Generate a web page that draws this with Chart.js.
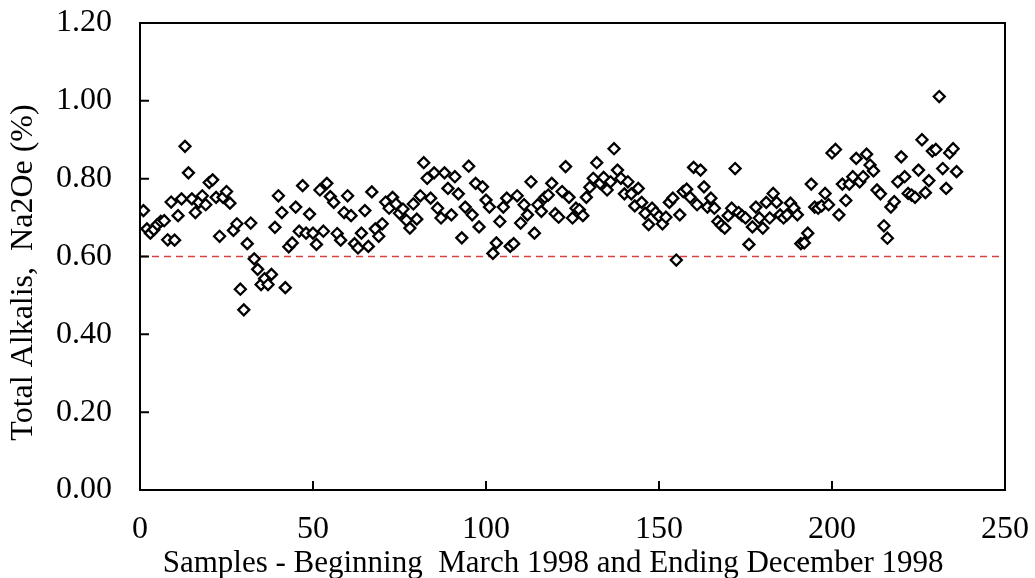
<!DOCTYPE html>
<html>
<head>
<meta charset="utf-8">
<script src="https://cdn.jsdelivr.net/npm/chart.js@4.4.0/dist/chart.umd.min.js"></script>
<style>
html, body { margin: 0; padding: 0; background: #fff; }
#wrap { width: 1035px; height: 578px; }
</style>
</head>
<body>
<div id="wrap"><canvas id="chartAlkalis"></canvas></div>
<script>
// Total alkalis (Na2Oe %) per sample, March - December 1998
const alkalis = [
    0.718, 0.671, 0.660, 0.669, 0.682, 0.690, 0.692, 0.643, 0.740, 0.642,
    0.705, 0.748, 0.883, 0.815, 0.748, 0.713, 0.739, 0.756, 0.733, 0.790,
    0.797, 0.752, 0.652, 0.752, 0.767, 0.737, 0.667, 0.684, 0.516, 0.463,
    0.633, 0.686, 0.594, 0.567, 0.528, 0.543, 0.528, 0.554, 0.675, 0.756,
    0.713, 0.520, 0.625, 0.635, 0.727, 0.665, 0.782, 0.660, 0.709, 0.660,
    0.631, 0.771, 0.665, 0.788, 0.754, 0.739, 0.659, 0.642, 0.713, 0.756,
    0.705, 0.633, 0.622, 0.660, 0.718, 0.626, 0.766, 0.671, 0.652, 0.684,
    0.740, 0.724, 0.752, 0.735, 0.711, 0.722, 0.693, 0.673, 0.735, 0.696,
    0.756, 0.841, 0.801, 0.750, 0.815, 0.724, 0.699, 0.815, 0.775, 0.707,
    0.805, 0.761, 0.648, 0.727, 0.832, 0.707, 0.788, 0.676, 0.779, 0.745,
    0.727, 0.608, 0.635, 0.690, 0.727, 0.750, 0.626, 0.633, 0.756, 0.686,
    0.733, 0.707, 0.792, 0.660, 0.733, 0.716, 0.752, 0.758, 0.788, 0.710,
    0.701, 0.767, 0.831, 0.752, 0.699, 0.724, 0.720, 0.705, 0.752, 0.778,
    0.801, 0.841, 0.788, 0.803, 0.771, 0.792, 0.877, 0.822, 0.801, 0.761,
    0.792, 0.761, 0.730, 0.775, 0.739, 0.711, 0.682, 0.724, 0.713, 0.703,
    0.684, 0.701, 0.739, 0.750, 0.591, 0.707, 0.767, 0.773, 0.752, 0.829,
    0.733, 0.822, 0.779, 0.727, 0.750, 0.724, 0.690, 0.680, 0.673, 0.705,
    0.724, 0.826, 0.713, 0.705, 0.699, 0.631, 0.676, 0.727, 0.699, 0.673,
    0.739, 0.699, 0.762, 0.739, 0.707, 0.699, 0.707, 0.737, 0.724, 0.707,
    0.633, 0.635, 0.660, 0.786, 0.727, 0.724, 0.730, 0.762, 0.733, 0.866,
    0.875, 0.707, 0.786, 0.744, 0.786, 0.805, 0.852, 0.792, 0.805, 0.863,
    0.835, 0.820, 0.771, 0.761, 0.679, 0.647, 0.727, 0.741, 0.792, 0.856,
    0.805, 0.762, 0.758, 0.752, 0.822, 0.900, 0.764, 0.795, 0.871, 0.875,
    1.011, 0.826, 0.775, 0.866, 0.877, 0.818
];
const samples = alkalis.map((v, i) => i + 1);
const limite = [0.60, 0.60];
const limiteX = [0, 250];

const fonte = "'Liberation Serif', 'Times New Roman', serif";

// frame + inward tick marks
const moldura = {
    id: 'moldura',
    afterDatasetsDraw(chart) {
        const { ctx, chartArea: a, scales: { x, y } } = chart;
        ctx.save();
        ctx.strokeStyle = '#000';
        ctx.lineWidth = 2;
        ctx.strokeRect(a.left, a.top, a.right - a.left, a.bottom - a.top);
        ctx.beginPath();
        x.ticks.forEach(t => {
            const px = x.getPixelForValue(t.value);
            ctx.moveTo(px, a.bottom);
            ctx.lineTo(px, a.bottom - 9);
        });
        y.ticks.forEach(t => {
            const py = y.getPixelForValue(t.value);
            ctx.moveTo(a.left, py);
            ctx.lineTo(a.left + 9, py);
        });
        ctx.stroke();
        ctx.restore();
    }
};

new Chart(document.getElementById('chartAlkalis'), {
    type: 'scatter',
    data: {
        datasets: [{
            data: samples.map((s, i) => ({ x: s, y: alkalis[i] })),
            pointStyle: 'rectRot',
            pointRadius: 5.5,
            pointBorderWidth: 2.3,
            borderColor: '#000',
            backgroundColor: '#fff',
            order: 1
        }, {
            type: 'line',
            data: limiteX.map((x, i) => ({ x: x, y: limite[i] })),
            borderColor: '#d9413f',
            borderWidth: 1.3,
            borderDash: [7, 5],
            pointRadius: 0,
            order: 2
        }]
    },
    options: {
        responsive: true,
        maintainAspectRatio: false,
        animation: false,
        layout: { padding: { top: 23, right: 30, left: 0, bottom: 0 } },
        plugins: { legend: { display: false }, tooltip: { enabled: false } },
        scales: {
            x: {
                type: 'linear',
                min: 0,
                max: 250,
                grid: { display: false, drawTicks: false },
                border: { display: false },
                ticks: { stepSize: 50, color: '#000', padding: 20, font: { family: fonte, size: 32 } },
                title: {
                    display: true,
                    // trailing spaces nudge the centred title left, as in the original
                    text: 'Samples - Beginning  March 1998 and Ending December 1998     ',
                    color: '#000',
                    font: { family: fonte, size: 31, lineHeight: 0.9 },
                    padding: { top: 0, bottom: 0 }
                },
                afterFit: s => { s.height = 88; s.paddingLeft = 0; s.paddingRight = 0; }
            },
            y: {
                min: 0,
                max: 1.2,
                grid: { display: false, drawTicks: false },
                border: { display: false },
                ticks: {
                    stepSize: 0.2,
                    color: '#000',
                    padding: 28,
                    font: { family: fonte, size: 32 },
                    callback: v => v.toFixed(2)
                },
                title: {
                    display: true,
                    text: 'Total Alkalis,  Na2Oe (%)    ',
                    color: '#000',
                    font: { family: fonte, size: 32, lineHeight: 1 },
                    padding: { top: 8, bottom: 0 }
                },
                afterFit: s => { s.width = 140; s.paddingTop = 0; s.paddingBottom = 0; }
            }
        }
    },
    plugins: [moldura]
});
</script>
</body>
</html>
